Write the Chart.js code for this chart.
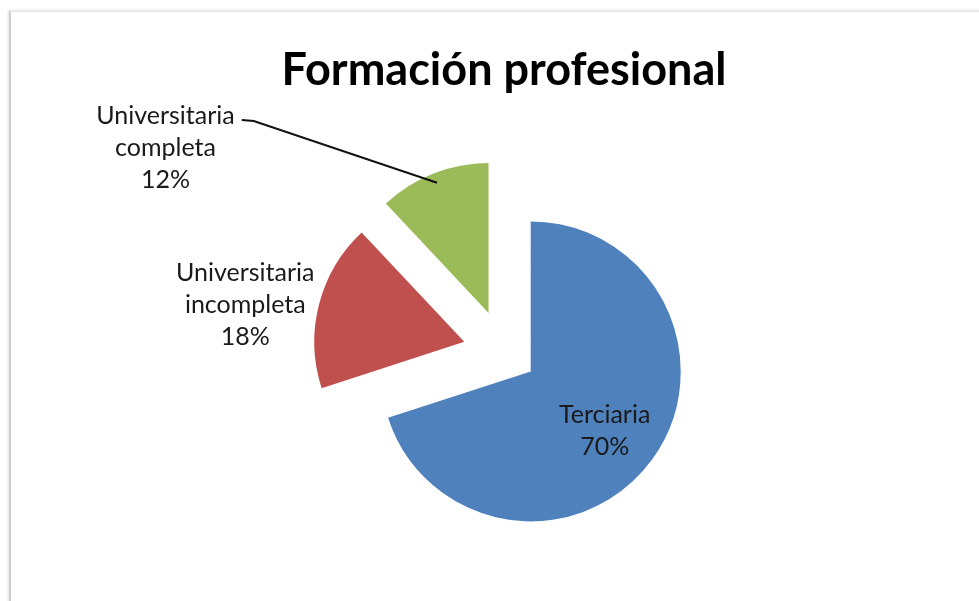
<!DOCTYPE html>
<html>
<head>
<meta charset="utf-8">
<script src="https://cdn.jsdelivr.net/npm/chart.js@4"></script>
<style>
  html, body { margin: 0; padding: 0; background: #fff; }
  #wrap { position: relative; width: 979px; height: 601px; overflow: hidden; }
  #frame {
    position: absolute; left: 9px; top: 11px; width: 990px; height: 620px;
    border-left: 2px solid #cdcdcd; border-top: 1px solid #e4e4e4;
    box-shadow: -1px -1px 3px rgba(0,0,0,0.12);
    pointer-events: none;
  }
</style>
</head>
<body>
<div id="wrap">
  <canvas id="pieFormacion" width="979" height="601"></canvas>
  <div id="frame"></div>
</div>
<script>
const ctxFormacion = document.getElementById('pieFormacion');

const labels = ['Terciaria', 'Universitaria incompleta', 'Universitaria completa'];
const values = [70, 18, 12];
const colors = ['#4F81BD', '#C0504D', '#9BBB59'];

// how far each slice is pulled out (px)
const explode = [33, 41, 42];
// label block centre, relative to the slice's own centre
const labelOffset = [[74, 60], [-219, -37], [-323, -165]];

const total = values.reduce((a, b) => a + b, 0);

const explodePlugin = {
    id: 'explode',
    afterDatasetUpdate(chart, args) {
        args.meta.data.forEach((arc, i) => {
            const mid = (arc.startAngle + arc.endAngle) / 2;
            arc.x += Math.cos(mid) * explode[i];
            arc.y += Math.sin(mid) * explode[i];
        });
    }
};

const labelPlugin = {
    id: 'sliceLabels',
    afterDatasetsDraw(chart) {
        const ctx = chart.ctx;
        const arcs = chart.getDatasetMeta(0).data;
        const lineH = 32;
        ctx.save();
        ctx.font = '25px Lato';
        ctx.fillStyle = '#1a1a1a';
        ctx.textAlign = 'center';
        ctx.textBaseline = 'middle';
        arcs.forEach((arc, i) => {
            const pct = Math.round(values[i] / total * 100) + '%';
            const lines = labels[i] === 'Terciaria' ? ['Terciaria', pct] : labels[i].split(' ').concat(pct);
            const cx = arc.x + labelOffset[i][0];
            const cy = arc.y + labelOffset[i][1];
            const top = cy - (lines.length - 1) * lineH / 2;
            lines.forEach((t, k) => ctx.fillText(t, cx, top + k * lineH));

            if (i === 2) {
                // leader line from the label to the slice
                const w = ctx.measureText(lines[0]).width;
                const sx = cx + w / 2 + 7;
                const sy = top + 4;
                const mid = (arc.startAngle + arc.endAngle) / 2;
                const ex = arc.x + Math.cos(mid) * (arc.outerRadius - 10);
                const ey = arc.y + Math.sin(mid) * (arc.outerRadius - 10);
                ctx.strokeStyle = '#111';
                ctx.lineWidth = 2;
                ctx.beginPath();
                ctx.moveTo(sx, sy);
                ctx.lineTo(sx + 12, sy + 1);
                ctx.lineTo(ex, ey);
                ctx.stroke();
            }
        });
        ctx.restore();
    }
};

new Chart(ctxFormacion, {
    type: 'pie',
    data: {
        labels: labels,
        datasets: [{
            data: values,
            backgroundColor: colors,
            borderWidth: 0,
            hoverOffset: 0
        }]
    },
    options: {
        responsive: false,
        animation: false,
        events: [],
        radius: 150,
        layout: {
            padding: { left: 29, right: 0, top: 0, bottom: 1 }
        },
        plugins: {
            legend: { display: false },
            tooltip: { enabled: false },
            title: {
                display: true,
                text: 'Formación profesional',
                color: '#000',
                font: { family: 'Lato', size: 45, weight: 'bold', lineHeight: 1.2 },
                padding: { top: 43, bottom: 7 }
            }
        }
    },
    plugins: [explodePlugin, labelPlugin]
});
</script>
</body>
</html>
